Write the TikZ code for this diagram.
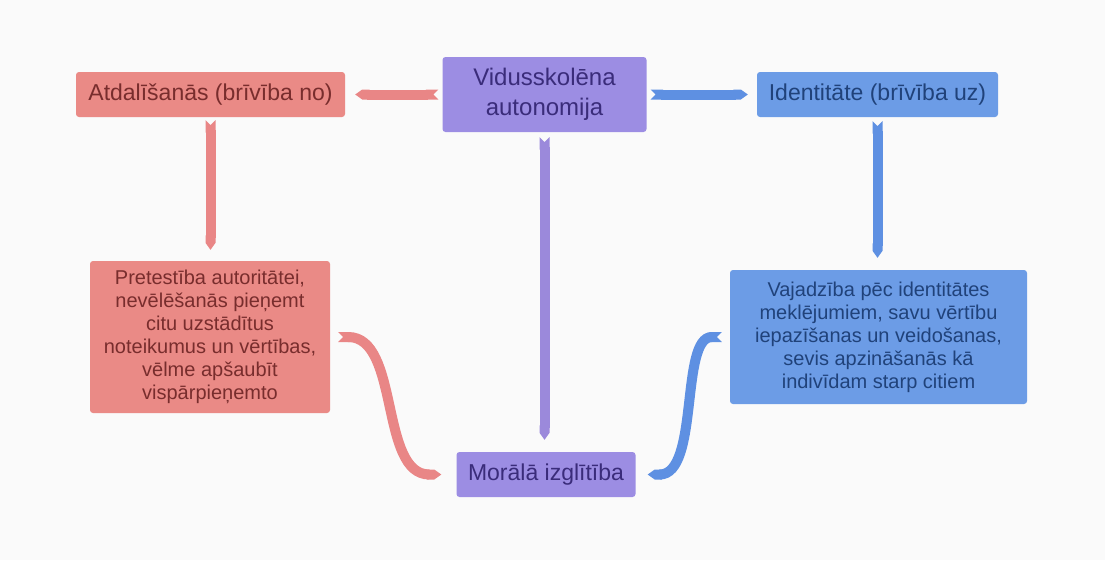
\documentclass[tikz,border=0pt]{standalone}
\usepackage{fontspec}
\setmainfont{Liberation Sans}
\usetikzlibrary{arrows.meta}
\definecolor{bg}{RGB}{250,250,250}
\definecolor{salm}{RGB}{234,138,134}
\definecolor{salmtext}{RGB}{120,45,45}
\definecolor{salmc}{RGB}{233,134,134}
\definecolor{purp}{RGB}{156,141,227}
\definecolor{purptext}{RGB}{58,44,122}
\definecolor{purpc}{RGB}{155,137,219}
\definecolor{blu}{RGB}{108,156,230}
\definecolor{blutext}{RGB}{32,66,122}
\definecolor{bluc}{RGB}{94,144,226}
\begin{document}
\begin{tikzpicture}[x=1pt,y=-1pt,
  box/.style={rounded corners=3pt, inner sep=0pt, align=center},
  bigfont/.style={font=\fontsize{23}{29}\selectfont},
  smallfont/.style={font=\fontsize{20}{23}\selectfont},
  rib/.style={line width=10pt, {Triangle Cap[reversed]}-{Triangle Cap[length=7pt]}}
]
\fill[bg] (0,0) rectangle (1105,560);
\useasboundingbox (0,0) rectangle (1105,560);

\node[box, bigfont, fill=salm, text=salmtext, minimum width=269pt, minimum height=45pt] (atd) at (210.5,94.5) {Atdalīšanās (brīvība no)};
\node[box, font=\fontsize{24}{30}\selectfont, fill=purp, text=purptext, minimum width=204pt, minimum height=75pt] (vid) at (544.5,94.5) {Vidusskolēna\\autonomija};
\node[box, bigfont, fill=blu, text=blutext, minimum width=241pt, minimum height=45pt] (idn) at (877.5,94.5) {Identitāte (brīvība uz)};
\node[box, smallfont, fill=salm, text=salmtext, minimum width=240pt, minimum height=152pt] (pre) at (210,337) {Pretestība autoritātei,\\nevēlēšanās pieņemt\\citu uzstādītus\\noteikumus un vērtības,\\vēlme apšaubīt\\vispārpieņemto};
\node[box, smallfont, fill=blu, text=blutext, minimum width=297pt, minimum height=134pt] (vaj) at (878.5,337) {Vajadzība pēc identitātes\\meklējumiem, savu vērtību\\iepazīšanas un veidošanas,\\sevis apzināšanās kā\\indivīdam starp citiem};
\node[box, bigfont, fill=purp, text=purptext, minimum width=179pt, minimum height=45pt] (mor) at (546,474.5) {Morālā izglītība};

\draw[rib, salmc] ([xshift=-4pt]vid.west) -- ([xshift=10pt]atd.east);
\draw[rib, bluc] ([xshift=4pt]vid.east) -- ([xshift=-9pt]idn.west);
\draw[rib, salmc] ([yshift=-3pt]atd.south) -- ([yshift=11pt]atd.south |- pre.north);
\draw[rib, purpc] ([yshift=-5pt]vid.south) -- ([yshift=12pt]vid.south |- mor.north);
\draw[rib, bluc] ([yshift=-4pt]idn.south) -- ([yshift=12pt]idn.south |- vaj.north);
\draw[rib, salmc] ([xshift=8pt]pre.east) .. controls +(62,0) and +(-62,0) .. ([xshift=-15pt]mor.west);
\draw[rib, bluc] ([xshift=-8pt]vaj.west) .. controls +(-42,0) and +(52,0) .. ([xshift=12pt]mor.east);
\end{tikzpicture}
\end{document}
